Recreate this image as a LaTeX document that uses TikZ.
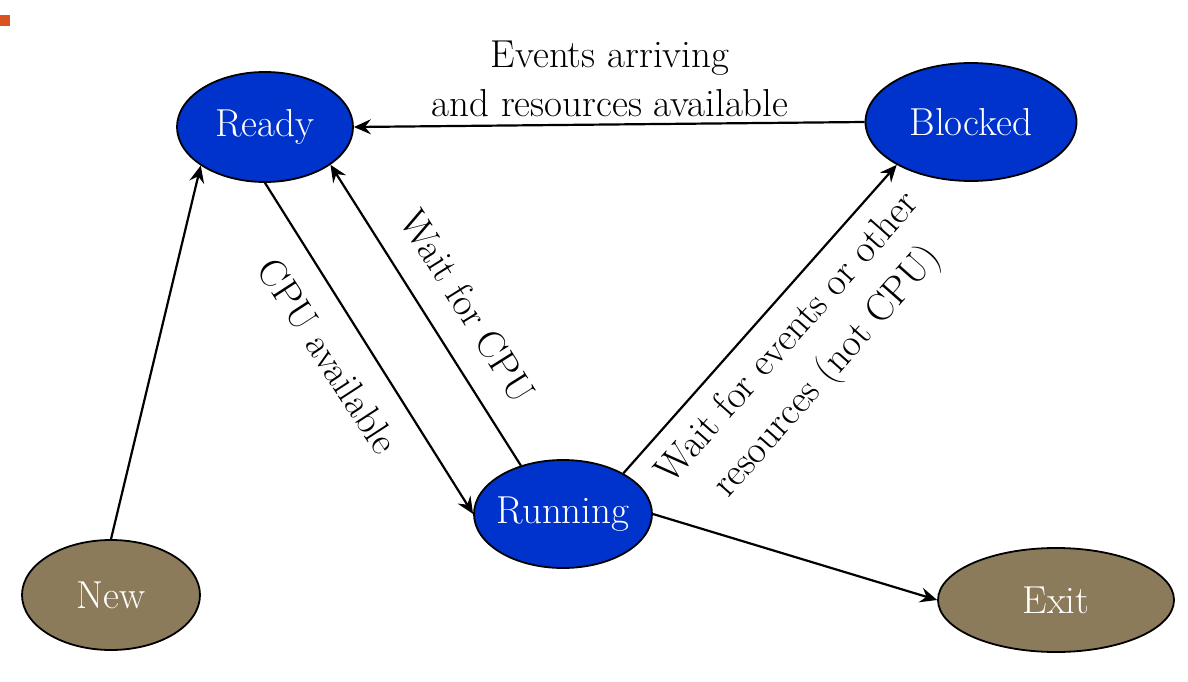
\documentclass[tikz,border=0pt]{standalone}
\usepackage{fontspec}
\usetikzlibrary{shapes.geometric,arrows.meta}
\definecolor{stateblue}{RGB}{0,51,204}
\definecolor{statebrown}{RGB}{139,123,90}
\definecolor{markorange}{RGB}{217,83,30}
\newcommand{\statetext}[1]{\makebox[0pt]{#1}}
\begin{document}
\begin{tikzpicture}[x=1pt,y=-1pt,
  state/.style={ellipse,draw=black,line width=1.8pt,inner sep=0pt,text=white,font=\fontsize{39}{46}\selectfont},
  active/.style={state,fill=stateblue},
  terminal/.style={state,fill=statebrown},
  flow/.style={line width=2.2pt,-{Stealth[length=17pt,width=15pt,inset=6pt]}},
  lbl/.style={font=\fontsize{39}{46}\selectfont,inner sep=0pt}]
\useasboundingbox (0,0) rectangle (1188,682);
\fill[markorange] (0,15) rectangle (10,26);
\node[active,minimum width=176pt,minimum height=110pt] (ready) at (265,127) {\statetext{Ready}};
\node[active,minimum width=211pt,minimum height=118pt] (blocked) at (971,122) {\statetext{Blocked}};
\node[active,minimum width=178pt,minimum height=108pt] (running) at (563,514) {\statetext{Running}};
\node[terminal,minimum width=178pt,minimum height=110pt] (new) at (111,595) {\statetext{New}};
\node[terminal,minimum width=236pt,minimum height=104pt] (exit) at (1056,600) {\statetext{Exit}};
\draw[flow] (blocked.west) -- (ready.east);
\draw[flow] (new.north) -- (ready.211);
\draw[flow] (ready.south) -- (running.west);
\draw[flow] (running.131) -- (ready.330);
\draw[flow] (running.34) -- (blocked.210);
\draw[flow] (running.east) -- (exit.west);
\node[lbl,anchor=base] (ev1) at (610,68) {Events arriving};
\node[lbl,anchor=base] (ev2) at (610,117) {and resources available};
\node[lbl,rotate=-57] (cpu) at (328,356) {CPU available};
\node[lbl,rotate=-58] (wcpu) at (468,306) {Wait for CPU};
\node[lbl,rotate=48.5] (we1) at (786,336) {Wait for events or other};
\node[lbl,rotate=48.5] (we2) at (828,372) {resources (not CPU)};
\end{tikzpicture}
\end{document}
